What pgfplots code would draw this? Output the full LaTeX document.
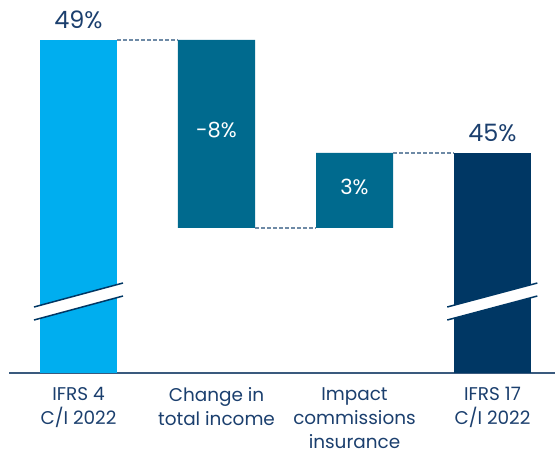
\documentclass[border=0pt]{standalone}
\usepackage{pgfplots}
\pgfplotsset{compat=1.18}
\usepackage{pgfplotstable}
\usepackage{fontspec}
\setmainfont{Poppins}
\definecolor{lblue}{HTML}{00AEEF}
\definecolor{tealb}{HTML}{006A8E}
\definecolor{navy}{HTML}{003764}
\definecolor{txt}{HTML}{1B3F6E}
\definecolor{dashc}{HTML}{6E8AA6}
\definecolor{axisc}{HTML}{3A5A7E}

\pgfplotstableread{
x base lb tl nv
0 0 49.4 0 0
1 41.567 0 7.833 0
2 41.567 0 3.125 0
3 0 0 0 44.692
}\wfdata

\begin{document}
\begin{tikzpicture}
\begin{axis}[
  scale only axis, width=546bp, height=373bp,
  xmin=-0.5036, xmax=3.4529, ymin=35.525, ymax=51.067,
  ybar stacked, bar width=77bp,
  axis y line=none, axis x line=bottom,
  x axis line style={-, draw=axisc, line width=1.3bp},
  xtick={0,1,2,3},
  xticklabels={{IFRS 4\\C/I 2022},{Change in\\total income},{Impact\\commissions\\insurance},{IFRS 17\\C/I 2022}},
  major tick length=0pt,
  xticklabel style={align=center, anchor=north, font=\fontsize{18.5}{24}\selectfont, text=txt, yshift=-11bp},
]
\addplot[draw=none, fill=none] table[x=x, y=base] {\wfdata};
\addplot[draw=none, fill=lblue] table[x=x, y=lb] {\wfdata};
\addplot[draw=none, fill=tealb] table[x=x, y=tl] {\wfdata};
\addplot[draw=none, fill=navy] table[x=x, y=nv] {\wfdata};

\coordinate (c1a) at (axis cs:0.279,49.4);   \coordinate (c1b) at (axis cs:0.721,49.4);
\coordinate (c2a) at (axis cs:1.279,41.567); \coordinate (c2b) at (axis cs:1.721,41.567);
\coordinate (c3a) at (axis cs:2.279,44.692); \coordinate (c3b) at (axis cs:2.721,44.692);

\coordinate (b1a) at (axis cs:-0.3225,37.733); \coordinate (b1b) at (axis cs:0.3225,38.733);
\coordinate (b1c) at (axis cs:0.3225,39.275);  \coordinate (b1d) at (axis cs:-0.3225,38.275);
\coordinate (b4a) at (axis cs:2.672,37.733);   \coordinate (b4b) at (axis cs:3.325,38.733);
\coordinate (b4c) at (axis cs:3.325,39.275);   \coordinate (b4d) at (axis cs:2.672,38.275);

\coordinate (l1) at (axis cs:0,49.4);
\coordinate (l4) at (axis cs:3,44.692);
\coordinate (l2) at (axis cs:1,45.317);
\coordinate (l3) at (axis cs:2,42.983);
\end{axis}
% connectors
\draw[dashc, line width=1.1bp, dash pattern=on 4bp off 2bp] (c1a) -- (c1b);
\draw[dashc, line width=1.1bp, dash pattern=on 4bp off 2bp] (c2a) -- (c2b);
\draw[dashc, line width=1.1bp, dash pattern=on 4bp off 2bp] (c3a) -- (c3b);
% axis breaks
\fill[white] (b1a) -- (b1b) -- (b1c) -- (b1d) -- cycle;
\draw[navy, line width=1.5bp] (b1a) -- (b1b) (b1d) -- (b1c);
\fill[white] (b4a) -- (b4b) -- (b4c) -- (b4d) -- cycle;
\draw[navy, line width=1.5bp] (b4a) -- (b4b) (b4d) -- (b4c);
% labels
\node[anchor=base, text=txt, font=\fontsize{24}{24}\selectfont] at ([yshift=12bp]l1) {49\%};
\node[anchor=base, text=txt, font=\fontsize{24}{24}\selectfont] at ([yshift=11bp]l4) {45\%};
\node[anchor=base, text=white, font=\fontsize{21}{21}\selectfont] at (l2) {-8\%};
\node[anchor=base, text=white, font=\fontsize{21}{21}\selectfont] at (l3) {3\%};
\pgfresetboundingbox
\path (current axis.south west) ++(-9bp,-83bp) rectangle (current axis.north east);
\end{tikzpicture}
\end{document}
